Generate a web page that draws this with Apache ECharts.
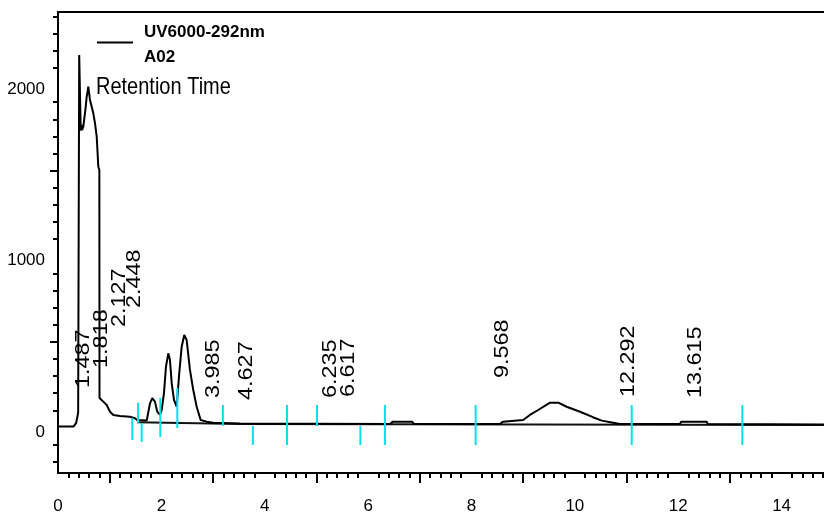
<!DOCTYPE html>
<html>
<head>
<meta charset="utf-8">
<script src="https://cdn.jsdelivr.net/npm/echarts@6/dist/echarts.min.js"></script>
<style>
html,body{margin:0;padding:0;background:#fff;}
#chart{width:824px;height:517px;}
</style>
</head>
<body>
<div id="chart"></div>
<script>
// ---- data ----
// chromatogram trace: time (axis units) and signal
const traceT = [0.02,0.30,0.35,0.39,0.41,0.44,0.455,0.468,0.49,0.53,0.555,0.571,0.586,0.60,0.619,0.652,0.683,0.716,0.749,0.78,0.80,0.803,0.876,0.942,1.006,1.07,1.20,1.39,1.49,1.53,1.716,1.78,1.824,1.876,1.92,1.973,2.006,2.05,2.089,2.134,2.166,2.20,2.244,2.296,2.346,2.393,2.443,2.489,2.553,2.617,2.683,2.76,2.876,2.998,3.52,6.42,6.48,6.85,6.89,8.55,8.61,9.0,9.13,9.29,9.52,9.68,9.84,10.10,10.35,10.52,10.74,10.87,12.03,12.06,12.55,12.57,14.82];
const traceV = [5,5,25,86,2176,1734,1767,1738,1757,1855,1932,1960,1991,1983,1913,1874,1835,1777,1699,1523,1504,172,151,131,92,73,67,63,54,44,41,141,171,151,92,73,102,200,355,433,394,258,161,121,317,472,540,511,336,219,121,44,34,28,23,20,34,34,20,20,34,44,73,102,145,145,121,92,60,40,28,20,20,34,34,20,18];
// integration baseline
const baseT = [1.53,3.52,14.82];
const baseV = [30,20,14];
// event markers (cyan): time, upper value, lower value
const markT  = [1.437,1.547,1.619,1.979,2.308,3.19,3.77,4.43,5.01,5.85,6.325,8.08,11.10,13.24];
const markV1 = [56,145,25,172,231,131,9,131,131,9,131,131,131,131];
const markV2 = [-73,25,-85,-55,-3,9,-102,-102,9,-102,-102,-102,-102,-102];
// retention time labels and their anchor (axis units)
const peakLabels = ['1.487','1.818','2.127','2.448','3.985','4.627','6.235','6.617','9.568','12.292','13.615'];
const peakLabelT = [0.493,0.832,1.19,1.489,3.004,3.656,5.271,5.619,8.598,11.044,12.33];
const peakLabelV = [231,348,587,698,172,161,172,178,289,178,172];
// axis tick labels
const xTickLabels = [0,2,4,6,8,10,12,14];
const yTickLabels = [0,1000,2000];
const seriesName = 'UV6000-292nm';
const seriesSub = 'A02';
const annotation = 'Retention Time';

// ---- ticks ----
const X_MIN = 0, X_MAX = 14.82, Y_MIN = -266, Y_MAX = 2427;
const xShort = [], xLong = [];
for (let k = 1; k <= 74; k++) {
  if (k % 5 !== 0) xShort.push(k / 5);
  else if ((k / 5) % 2 === 1) xLong.push(k / 5);
}
const yShort = [], yLong = [500, 1500];
for (let v = -200; v <= 2400; v += 100) { if (v % 500 !== 0) yShort.push(v); }

const FONT = 'Liberation Sans, Arial, sans-serif';
const chart = echarts.init(document.getElementById('chart'), null, {renderer: 'canvas'});
const tickStyle = {color: '#000', width: 2};

chart.setOption({
  animation: false,
  backgroundColor: '#fff',
  grid: {left: 58, right: 0, top: 12, bottom: 44},
  legend: {
    show: true, left: 97, top: 17, padding: 0,
    selectedMode: false,
    icon: 'rect', itemWidth: 36, itemHeight: 2,
    data: [seriesName],
    formatter: () => '{s| }\n{a|' + seriesName + '}\n{a|' + seriesSub + '}',
    textStyle: {
      fontFamily: FONT, fontSize: 17, fontWeight: 'bold', color: '#000',
      rich: {
        s: {fontSize: 1, lineHeight: 5},
        a: {fontFamily: FONT, fontSize: 17, fontWeight: 'bold', color: '#000', lineHeight: 25, padding: [0, 0, 0, 6]}
      }
    }
  },
  graphic: [{
    type: 'text', x: 96, y: 87.5, scaleY: 1.17,
    style: {text: annotation, font: '20px ' + FONT, fill: '#000', textAlign: 'left', textVerticalAlign: 'middle'}
  }],
  xAxis: [
    {type: 'value', min: X_MIN, max: X_MAX, position: 'bottom',
     axisLine: {onZero: false, lineStyle: {color: '#000', width: 2}},
     axisTick: {customValues: xShort, length: 5, lineStyle: tickStyle},
     axisLabel: {customValues: xTickLabels, margin: 25, fontSize: 17, fontFamily: FONT, color: '#000',
                 formatter: v => String(v)},
     splitLine: {show: false}},
    {type: 'value', min: X_MIN, max: X_MAX, position: 'bottom',
     axisLine: {show: false, onZero: false},
     axisTick: {customValues: xLong, length: 10, lineStyle: tickStyle},
     axisLabel: {show: false}, splitLine: {show: false}},
    {type: 'value', min: X_MIN, max: X_MAX, position: 'top',
     axisLine: {onZero: false, lineStyle: {color: '#000', width: 2}},
     axisTick: {show: false}, axisLabel: {show: false}, splitLine: {show: false}}
  ],
  yAxis: [
    {type: 'value', min: Y_MIN, max: Y_MAX, position: 'left',
     axisLine: {onZero: false, lineStyle: {color: '#000', width: 2}},
     axisTick: {customValues: yShort, length: 5, lineStyle: tickStyle},
     axisLabel: {customValues: yTickLabels, margin: 13, fontSize: 17, fontFamily: FONT, color: '#000',
                 verticalAlign: 'top', lineHeight: 9, formatter: v => String(v)},
     splitLine: {show: false}},
    {type: 'value', min: Y_MIN, max: Y_MAX, position: 'left',
     axisLine: {show: false, onZero: false},
     axisTick: {customValues: yLong, length: 8, lineStyle: tickStyle},
     axisLabel: {show: false}, splitLine: {show: false}}
  ],
  series: [
    {name: 'baseline', type: 'line', xAxisIndex: 0, yAxisIndex: 0, symbol: 'none',
     data: baseT.map((t, i) => [t, baseV[i]]),
     lineStyle: {color: '#111', width: 2}, color: '#111', z: 2},
    {name: seriesName, type: 'line', xAxisIndex: 0, yAxisIndex: 0, symbol: 'none',
     data: traceT.map((t, i) => [t, traceV[i]]),
     lineStyle: {color: '#000', width: 2}, color: '#000', z: 3},
    {name: 'events', type: 'custom', xAxisIndex: 0, yAxisIndex: 0, z: 4,
     data: markT.map((t, i) => [t, markV1[i], markV2[i]]),
     renderItem: (params, api) => {
       const p1 = api.coord([api.value(0), api.value(1)]);
       const p2 = api.coord([api.value(0), api.value(2)]);
       return {type: 'line', shape: {x1: p1[0], y1: p1[1], x2: p2[0], y2: p2[1]},
               style: {stroke: '#00e3ee', lineWidth: 2}};
     }},
    {name: 'labels', type: 'custom', xAxisIndex: 0, yAxisIndex: 0, z: 5,
     data: peakLabelT.map((t, i) => [t, peakLabelV[i], i]),
     renderItem: (params, api) => {
       const p = api.coord([api.value(0), api.value(1)]);
       return {type: 'text', x: p[0], y: p[1], rotation: Math.PI / 2, scaleX: 1.17,
               style: {text: peakLabels[api.value(2)], font: '20px ' + FONT, fill: '#000',
                       textAlign: 'left', textVerticalAlign: 'middle'}};
     }}
  ]
});
</script>
</body>
</html>
